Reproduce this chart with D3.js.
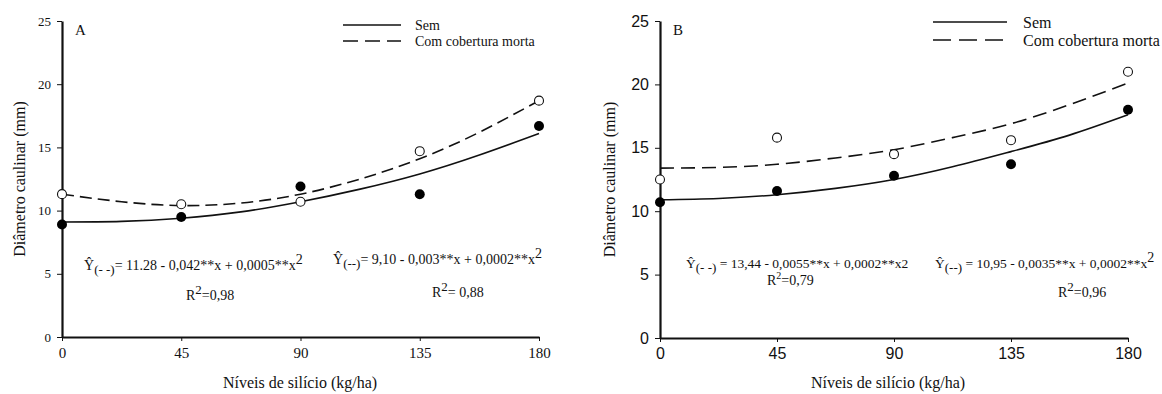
<!DOCTYPE html>
<html>
<head>
<meta charset="utf-8">
<script src="https://cdn.jsdelivr.net/npm/d3@7"></script>
<style>
  body { margin: 0; background: #fff; }
  svg { display: block; }
  text { fill: #111; }
  .serif, .serif text { font-family: "Liberation Serif", "DejaVu Serif", serif; }
  .sans, .sans text { font-family: "Liberation Sans", Arial, sans-serif; }
</style>
</head>
<body>
<div id="chart"></div>
<script>
// silicon levels (kg/ha)
const xLevels = [0, 45, 90, 135, 180];
const yTicks = [0, 5, 10, 15, 20, 25];

// observed means, panel A
const semA = [8.9, 9.5, 11.9, 11.3, 16.7];
const comA = [11.3, 10.5, 10.7, 14.7, 18.7];
// observed means, panel B
const semB = [10.7, 11.6, 12.8, 13.7, 18.0];
const comB = [12.5, 15.8, 14.5, 15.6, 21.0];

// fitted curves
const fitX = [0, 22.5, 45, 67.5, 90, 112.5, 135, 157.5, 180];
const fitSemA = [9.1, 9.15, 9.4, 9.9, 10.7, 11.7, 12.9, 14.4, 16.1];
const fitComA = [11.3, 10.7, 10.4, 10.6, 11.3, 12.5, 14.1, 16.2, 18.7];
const fitSemB = [10.9, 11.0, 11.3, 11.8, 12.5, 13.5, 14.7, 16.0, 17.6];
const fitComB = [13.4, 13.45, 13.7, 14.2, 14.85, 15.8, 16.9, 18.4, 20.1];

const legendLabels = ["Sem", "Com cobertura morta"];
const xTitle = "Níveis de silício (kg/ha)";
const yTitle = "Diâmetro caulinar (mm)";

const svg = d3.select("#chart").append("svg")
  .attr("width", 1162)
  .attr("height", 394);

const panels = [
  {
    letter: "A", left: 62, right: 539, top: 21, bottom: 337,
    tickClass: "serif", yTickSize: 13, xTickSize: 15,
    sem: semA, com: comA, fitSem: fitSemA, fitCom: fitComA,
    dash: "12 6", titleX: 300, yTitleX: 19,
    legend: { x1: 343, x2: 401, y: 25, gap: 16, tx: 415, size: 14, dash: "15 7" },
    eqs: [
      { x: 84, y: 270, size: 14, sub: "(- -)", rest: "= 11.28 - 0,042**x + 0,0005**x", sup: "2", r2: { x: 186, y: 300, text: "=0,98" } },
      { x: 333, y: 264, size: 14, sub: "(--)", rest: "= 9,10 - 0,003**x + 0,0002**x", sup: "2", r2: { x: 432, y: 297, text: "= 0,88" } }
    ]
  },
  {
    letter: "B", left: 660, right: 1128, top: 21, bottom: 338,
    tickClass: "sans", yTickSize: 16, xTickSize: 16,
    sem: semB, com: comB, fitSem: fitSemB, fitCom: fitComB,
    dash: "14 7", titleX: 888, yTitleX: 609,
    legend: { x1: 933, x2: 1007, y: 22, gap: 18, tx: 1023, size: 16, dash: "18 8" },
    eqs: [
      { x: 686, y: 268, size: 13.5, sub: "(- -)", rest: " = 13,44 - 0,0055**x  + 0,0002**x2", sup: null, r2: { x: 767, y: 285, text: "=0,79", small: true } },
      { x: 935, y: 268, size: 13.5, sub: "(--)", rest: " = 10,95 - 0,0035**x + 0,0002**x", sup: "2", r2: { x: 1058, y: 297, text: "=0,96" } }
    ]
  }
];

panels.forEach(drawPanel);

function drawPanel(p) {
  const x = d3.scaleLinear().domain([0, 180]).range([p.left, p.right]);
  const y = d3.scaleLinear().domain([0, 25]).range([p.bottom, p.top]);
  const g = svg.append("g").attr("class", "serif");

  // axes
  const yAxis = g.append("g")
    .attr("transform", `translate(${p.left},0)`)
    .call(d3.axisLeft(y).tickValues(yTicks).tickSize(5).tickSizeOuter(0).tickPadding(6))
    .attr("font-family", null)
    .attr("class", p.tickClass);
  yAxis.select(".domain").attr("stroke", "#111").attr("stroke-width", 2.2);
  yAxis.selectAll(".tick line").attr("stroke", "#111");
  yAxis.selectAll(".tick text")
    .style("font-size", p.yTickSize + "px").attr("fill", "#111");

  const xAxis = g.append("g")
    .attr("transform", `translate(0,${p.bottom})`)
    .call(d3.axisBottom(x).tickValues(xLevels).tickSize(4).tickSizeOuter(0).tickPadding(6))
    .attr("font-family", null)
    .attr("class", p.tickClass);
  xAxis.select(".domain").attr("stroke", "#111").attr("stroke-width", 1.8);
  xAxis.selectAll(".tick line").attr("stroke", "#111");
  xAxis.selectAll(".tick text")
    .style("font-size", p.xTickSize + "px").attr("fill", "#111");

  // titles
  g.append("text")
    .attr("x", p.titleX).attr("y", 388)
    .attr("text-anchor", "middle")
    .style("font-size", "16px")
    .text(xTitle);

  g.append("text")
    .attr("transform", `translate(${p.yTitleX},${(p.top + p.bottom) / 2}) rotate(-90)`)
    .attr("text-anchor", "middle")
    .attr("dy", "0.35em")
    .style("font-size", "16px")
    .text(yTitle);

  g.append("text")
    .attr("x", p.left + 13).attr("y", p.top + 14)
    .style("font-size", "15px")
    .text(p.letter);

  // fitted curves
  const line = d3.line()
    .x((d, i) => x(fitX[i]))
    .y(d => y(d))
    .curve(d3.curveNatural);

  g.append("path")
    .datum(p.fitSem)
    .attr("fill", "none").attr("stroke", "#111").attr("stroke-width", 1.6)
    .attr("d", line);

  g.append("path")
    .datum(p.fitCom)
    .attr("fill", "none").attr("stroke", "#111").attr("stroke-width", 1.6)
    .attr("stroke-dasharray", p.dash)
    .attr("d", line);

  // points
  g.selectAll(".sem")
    .data(p.sem)
    .join("circle")
    .attr("cx", (d, i) => x(xLevels[i]))
    .attr("cy", d => y(d))
    .attr("r", 5)
    .attr("fill", "#000");

  g.selectAll(".com")
    .data(p.com)
    .join("circle")
    .attr("cx", (d, i) => x(xLevels[i]))
    .attr("cy", d => y(d))
    .attr("r", 4.5)
    .attr("fill", "#fff")
    .attr("stroke", "#111")
    .attr("stroke-width", 1.1);

  // legend
  const lg = p.legend;
  g.append("line")
    .attr("x1", lg.x1).attr("x2", lg.x2).attr("y1", lg.y).attr("y2", lg.y)
    .attr("stroke", "#111").attr("stroke-width", 1.6);
  g.append("line")
    .attr("x1", lg.x1).attr("x2", lg.x2).attr("y1", lg.y + lg.gap).attr("y2", lg.y + lg.gap)
    .attr("stroke", "#111").attr("stroke-width", 1.6)
    .attr("stroke-dasharray", lg.dash);
  legendLabels.forEach((label, i) => {
    g.append("text")
      .attr("x", lg.tx).attr("y", lg.y + i * lg.gap)
      .attr("dy", "0.35em")
      .style("font-size", lg.size + "px")
      .text(label);
  });

  // regression equations
  p.eqs.forEach(eq => {
    const t = g.append("text")
      .attr("x", eq.x).attr("y", eq.y)
      .style("font-size", eq.size + "px");
    t.append("tspan").text("Ŷ");
    t.append("tspan").attr("dy", 4).style("font-size", "13px").text(eq.sub);
    t.append("tspan").attr("dy", -4).text(eq.rest);
    if (eq.sup) t.append("tspan").attr("dy", -6).style("font-size", "14px").text(eq.sup);

    const r = g.append("text")
      .attr("x", eq.r2.x).attr("y", eq.r2.y)
      .style("font-size", "14px");
    r.append("tspan").text("R");
    r.append("tspan").attr("dy", -6).style("font-size", eq.r2.small ? "10px" : "13px").text("2");
    r.append("tspan").attr("dy", 6).text(eq.r2.text);
  });
}
</script>
</body>
</html>
